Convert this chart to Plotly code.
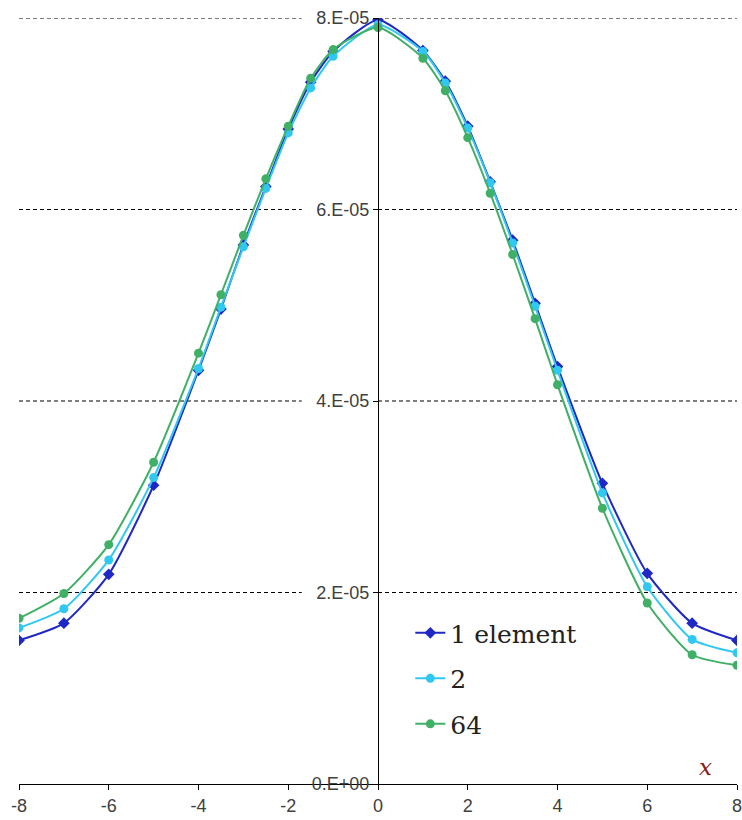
import plotly.graph_objects as go

# Sample positions along x
x_vals = [-8, -7, -6, -5, -4, -3.5, -3, -2.5, -2, -1.5, -1, 0,
          1, 1.5, 2, 2.5, 3, 3.5, 4, 5, 6, 7, 8]

# Values in units of 1e-5
one_element = [1.50, 1.68, 2.19, 3.12, 4.32, 4.96, 5.63, 6.24, 6.84, 7.33, 7.65, 7.98,
               7.66, 7.34, 6.87, 6.29, 5.68, 5.02, 4.36, 3.14, 2.20, 1.68, 1.50]
two_elements = [1.63, 1.83, 2.34, 3.20, 4.34, 4.98, 5.61, 6.22, 6.80, 7.27, 7.60, 7.93,
                7.65, 7.32, 6.85, 6.28, 5.65, 4.99, 4.32, 3.04, 2.06, 1.51, 1.37]
sixty_four = [1.73, 1.99, 2.50, 3.36, 4.50, 5.11, 5.73, 6.32, 6.87, 7.37, 7.67, 7.90,
              7.58, 7.24, 6.75, 6.17, 5.53, 4.86, 4.17, 2.88, 1.89, 1.35, 1.24]

series_names = ["1 element", "2", "64"]
series_colors = ["#1f28c4", "#30c8f0", "#3fb065"]
series_symbols = ["diamond", "circle", "circle"]

y_ticks = [0, 2e-5, 4e-5, 6e-5, 8e-5]
y_tick_text = ["0.E+00", "2.E-05", "4.E-05", "6.E-05", "8.E-05"]
x_ticks = [-8, -6, -4, -2, 0, 2, 4, 6, 8]
x_tick_text = ["-8", "-6", "-4", "-2", "0", "2", "4", "6", "8"]

fig = go.Figure()
for name, vals, color, sym in zip(series_names, [one_element, two_elements, sixty_four],
                                  series_colors, series_symbols):
    fig.add_trace(go.Scatter(
        x=x_vals, y=[v * 1e-5 for v in vals], name=name, legendgroup=name,
        mode="lines+markers", line=dict(color=color, width=2, shape="spline", smoothing=0.6),
        marker=dict(color=color, symbol=sym, size=9),
    ))

# Dashed horizontal gridlines, broken where the axis labels sit
for yv in y_ticks[1:]:
    for xa, xb in [(-8, -1.7), (0, 8)]:
        fig.add_shape(type="line", x0=xa, x1=xb, y0=yv, y1=yv, xref="x", yref="y",
                      line=dict(color="black", width=1, dash="4px,3px"), layer="below")

fig.add_annotation(x=7.3, y=0, xref="x", yref="y", text="<i>x</i>", showarrow=False,
                   yanchor="bottom", yshift=2,
                   font=dict(family="DejaVu Serif", size=23, color="#8b1c1c"))

tick_font = dict(family="Liberation Sans", size=18, color="#404040")

fig.update_layout(
    width=742, height=820, plot_bgcolor="white", paper_bgcolor="white",
    margin=dict(l=19, r=5, t=18, b=36, autoexpand=False),
    xaxis=dict(range=[-8, 8], tickvals=x_ticks, ticktext=x_tick_text, showgrid=False,
               zeroline=False, showline=True, linecolor="black", linewidth=1,
               ticks="outside", ticklen=5, tickcolor="black", tickfont=tick_font,
               ticklabeloverflow="allow", automargin=False),
    yaxis=dict(range=[0, 8e-5], tickvals=y_ticks, ticktext=y_tick_text, showgrid=False,
               zeroline=False, showline=True, linecolor="black", linewidth=1,
               anchor="free", position=0.5, ticks="outside", ticklen=5, tickcolor="black",
               tickfont=tick_font, automargin=False),
    legend=dict(x=0.545, y=0.227, xanchor="left", yanchor="top", tracegroupgap=10,
                bgcolor="rgba(0,0,0,0)",
                font=dict(family="DejaVu Serif", size=25, color="#222222")),
    showlegend=True,
)

fig.write_html("out.html")
